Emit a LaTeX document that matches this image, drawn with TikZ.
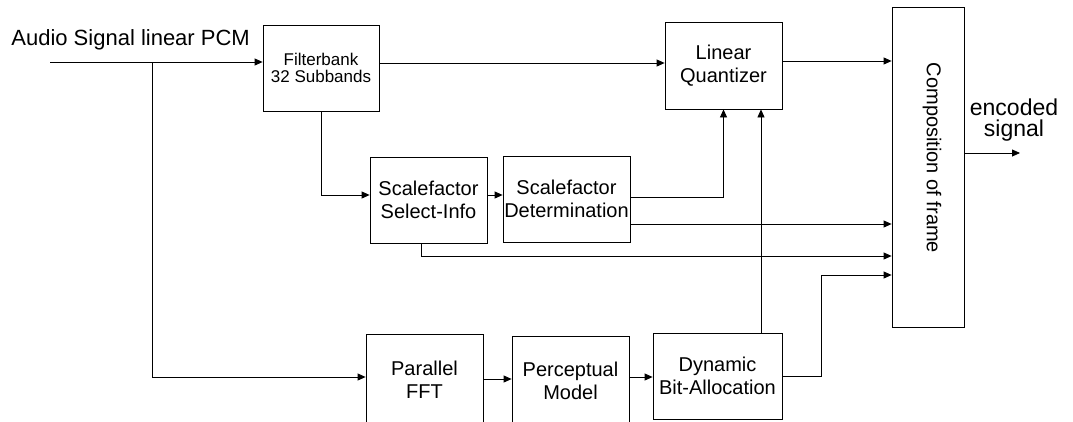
\documentclass[tikz,border=0pt]{standalone}
\usepackage{fontspec}
\setmainfont{Liberation Sans}
\usetikzlibrary{arrows.meta}
\begin{document}
\begin{tikzpicture}[x=1pt, y=-1pt, line width=0.8pt,
    >={Triangle[length=8pt,width=7pt]},
    block/.style={draw, align=center, inner sep=0pt, font=\fontsize{20}{23}\selectfont}]
    \useasboundingbox (0,0) rectangle (1073,421);
    % input
    \node[anchor=base west, inner sep=0pt, font=\fontsize{22}{26}\selectfont] (audio) at (11,45) {Audio Signal linear PCM};
    \coordinate (start) at (50,62);
    \coordinate (split) at (152,62);
    % blocks
    \node[block, minimum width=116pt, minimum height=86pt, font=\fontsize{17}{17}\selectfont] (filt) at (321,68) {Filterbank\\32 Subbands};
    \node[block, minimum width=117pt, minimum height=87pt] (quant) at (723.5,65.5) {Linear\\Quantizer};
    \node[block, minimum width=72pt, minimum height=320pt] (comp) at (928,167) {};
    \node[rotate=-90, inner sep=0pt, font=\fontsize{20}{24}\selectfont] (comptext) at (932,158) {Composition of frame};
    \node[block, minimum width=117pt, minimum height=86pt] (ssi) at (428.5,200) {Scalefactor\\Select-Info};
    \node[block, minimum width=127pt, minimum height=86pt] (sdet) at (566.5,199) {Scalefactor\\Determination};
    \node[block, minimum width=117pt, minimum height=96pt, text depth=4pt] (fft) at (424.5,382) {Parallel\\FFT};
    \node[block, minimum width=117pt, minimum height=94pt, text depth=4pt] (perc) at (570.5,383) {Perceptual\\Model};
    \node[block, minimum width=129pt, minimum height=86pt] (dba) at (717.5,376) {Dynamic\\Bit-Allocation};
    % output
    \coordinate (out) at (1020,153);
    \node[align=center, inner sep=0pt, font=\fontsize{23}{21}\selectfont] (enc) at (1014,120) {encoded\\signal};
    \coordinate (bend) at (821,275);
    % connections
    \draw[->] (start) -- (filt.west |- start);
    \draw[->] (split) |- (fft.west |- 0,377);
    \draw[->] (filt.east |- 0,63) -- (quant.west |- 0,63);
    \draw[->] (filt.south) |- (ssi.west |- 0,195);
    \draw[->] (ssi.east |- 0,195) -- (sdet.west |- 0,195);
    \draw[->] (sdet.east |- 0,197) -| (quant.south);
    \draw[->] (sdet.east |- 0,224) -- (comp.west |- 0,224);
    \draw[->] (ssi.south -| 421,0) |- (comp.west |- 0,256);
    \draw[->] (quant.east |- 0,61) -- (comp.west |- 0,61);
    \draw[->] (fft.east |- 0,379) -- (perc.west |- 0,379);
    \draw[->] (perc.east |- 0,377) -- (dba.west |- 0,377);
    \draw[->] (dba.north -| 761,0) -- (quant.south -| 761,0);
    \draw[->] (dba.east) -| (bend) -- (comp.west |- bend);
    \draw[->] (comp.east |- out) -- (out);
\end{tikzpicture}
\end{document}
